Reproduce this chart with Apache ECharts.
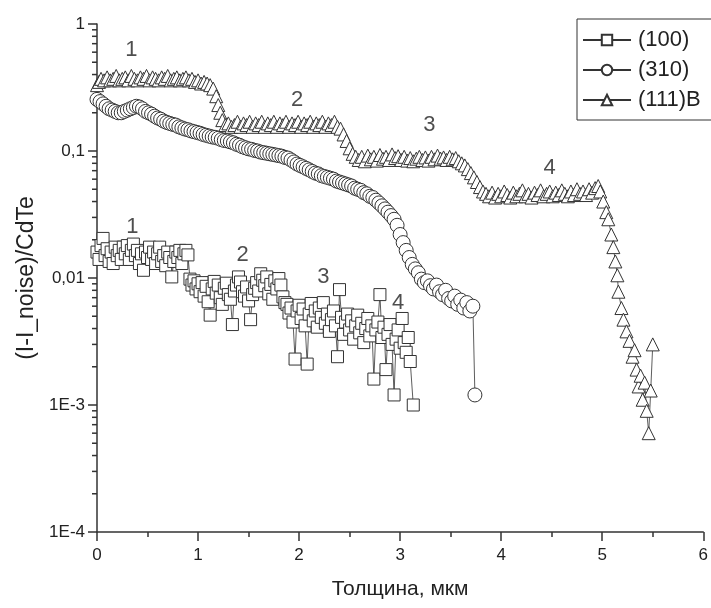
<!DOCTYPE html>
<html>
<head>
<meta charset="utf-8">
<script src="https://cdn.jsdelivr.net/npm/echarts@6/dist/echarts.min.js"></script>
<style>
  html, body { margin: 0; padding: 0; background: #fff; }
  #box { width: 711px; height: 608px; }
</style>
</head>
<body>
<div id="box"></div>
<script>
// (100) - squares
var data100 = [
  [0,0.016],[0.02,0.014],[0.04,0.018],[0.06,0.0205],[0.08,0.015],[0.1,0.017],[0.12,0.0135],[0.14,0.016],[0.16,0.013],[0.18,0.0175],
  [0.2,0.015],[0.22,0.0165],[0.24,0.014],[0.26,0.0175],[0.28,0.0155],[0.3,0.018],[0.32,0.014],[0.34,0.0165],[0.36,0.0185],[0.38,0.015],
  [0.4,0.0165],[0.42,0.013],[0.44,0.0155],[0.46,0.0115],[0.48,0.016],[0.5,0.0145],[0.52,0.0175],[0.54,0.014],[0.56,0.016],[0.58,0.013],
  [0.6,0.0155],[0.62,0.0175],[0.64,0.0135],[0.66,0.015],[0.68,0.0125],[0.7,0.016],[0.72,0.0145],[0.74,0.0102],[0.76,0.0135],[0.78,0.016],
  [0.8,0.0145],[0.82,0.0165],[0.84,0.013],[0.86,0.0155],[0.88,0.0165],[0.9,0.0152],
  [0.92,0.0098],[0.94,0.0088],[0.96,0.0095],[0.98,0.0082],[1.0,0.009],[1.02,0.0078],[1.04,0.0092],[1.06,0.0072],[1.08,0.0086],[1.1,0.0065],
  [1.12,0.0051],[1.14,0.0082],[1.16,0.0094],[1.18,0.0076],[1.2,0.0088],[1.22,0.007],[1.24,0.0062],[1.26,0.0083],[1.28,0.0091],[1.3,0.0074],
  [1.32,0.0068],[1.34,0.0043],[1.36,0.0079],[1.38,0.0088],[1.4,0.0102],[1.42,0.0093],[1.44,0.0078],[1.46,0.0072],[1.48,0.0085],[1.5,0.0066],
  [1.52,0.0047],[1.54,0.0074],[1.56,0.0083],[1.58,0.0092],[1.6,0.0079],[1.62,0.0108],[1.64,0.0096],[1.66,0.0087],[1.68,0.0102],[1.7,0.0075],
  [1.72,0.0089],[1.74,0.0068],[1.76,0.0095],[1.78,0.0082],[1.8,0.0099],[1.82,0.0088],[1.84,0.0071],[1.86,0.0064],
  [1.88,0.0062],[1.9,0.0053],[1.92,0.0058],[1.94,0.0045],[1.96,0.0023],[1.98,0.0055],[2.0,0.0061],[2.02,0.0048],[2.04,0.0057],[2.06,0.0042],
  [2.08,0.0021],[2.1,0.0052],[2.12,0.0063],[2.14,0.0046],[2.16,0.0055],[2.18,0.0041],[2.2,0.0058],[2.22,0.0049],[2.24,0.0064],[2.26,0.0044],
  [2.28,0.0052],[2.3,0.0038],[2.32,0.0047],[2.34,0.0055],[2.36,0.0042],[2.38,0.0024],[2.4,0.0081],[2.42,0.0049],[2.44,0.0036],[2.46,0.0045],
  [2.48,0.0052],[2.5,0.0039],[2.52,0.0046],[2.54,0.0033],[2.56,0.0042],[2.58,0.0051],[2.6,0.0037],[2.62,0.0044],[2.64,0.0031],[2.66,0.004],
  [2.68,0.0048],[2.7,0.0035],[2.72,0.0042],[2.74,0.0016],[2.76,0.0039],[2.78,0.0045],[2.8,0.0074],[2.82,0.0034],[2.84,0.0041],[2.86,0.0019],
  [2.88,0.0036],[2.9,0.0043],[2.92,0.003],[2.94,0.0012],[2.96,0.0033],[2.98,0.0039],[3.0,0.0028],[3.02,0.0048],[3.04,0.0031],[3.06,0.0026],
  [3.08,0.0034],[3.1,0.0022],[3.13,0.001]
];

// (310) - circles
var data310 = [
  [0,0.255],[0.03,0.245],[0.06,0.235],[0.09,0.225],[0.12,0.215],[0.15,0.21],[0.18,0.205],[0.21,0.2],[0.24,0.2],[0.27,0.205],
  [0.3,0.21],[0.33,0.215],[0.36,0.22],[0.39,0.225],[0.42,0.222],[0.45,0.215],[0.48,0.205],[0.51,0.2],[0.54,0.195],[0.57,0.188],
  [0.6,0.182],[0.63,0.178],[0.66,0.172],[0.69,0.168],[0.72,0.165],[0.75,0.162],[0.78,0.16],[0.81,0.155],[0.84,0.152],[0.87,0.149],
  [0.9,0.147],[0.93,0.144],[0.96,0.142],[0.99,0.14],[1.02,0.138],[1.05,0.135],[1.08,0.133],[1.11,0.131],[1.14,0.129],[1.17,0.128],
  [1.2,0.126],[1.23,0.123],[1.26,0.121],[1.29,0.12],[1.32,0.118],[1.35,0.116],[1.38,0.113],[1.41,0.111],[1.44,0.108],[1.47,0.106],
  [1.5,0.104],[1.53,0.103],[1.56,0.101],[1.59,0.1],[1.62,0.098],[1.65,0.097],[1.68,0.096],[1.71,0.095],[1.74,0.094],[1.77,0.093],
  [1.8,0.092],[1.83,0.091],[1.86,0.089],[1.89,0.088],[1.92,0.085],[1.95,0.082],[1.98,0.079],[2.01,0.077],[2.04,0.075],[2.07,0.073],
  [2.1,0.071],[2.13,0.069],[2.16,0.067],[2.19,0.066],[2.22,0.064],[2.25,0.063],[2.28,0.062],[2.31,0.061],[2.34,0.06],[2.37,0.058],
  [2.4,0.057],[2.43,0.056],[2.46,0.055],[2.49,0.054],[2.52,0.053],[2.55,0.051],[2.58,0.05],[2.61,0.049],[2.64,0.047],[2.67,0.046],
  [2.7,0.044],[2.73,0.043],[2.76,0.041],[2.79,0.039],[2.82,0.037],[2.85,0.035],[2.88,0.033],[2.91,0.031],[2.94,0.029],[2.97,0.026],
  [3.0,0.022],[3.03,0.019],[3.06,0.0165],[3.09,0.0145],[3.12,0.0128],[3.15,0.0118],[3.18,0.011],[3.21,0.0098],[3.24,0.0092],[3.27,0.0095],
  [3.3,0.0087],[3.33,0.0082],[3.36,0.0088],[3.39,0.0078],[3.42,0.0074],[3.45,0.008],[3.48,0.0069],[3.51,0.0066],[3.54,0.0072],[3.57,0.0062],
  [3.6,0.0067],[3.63,0.0058],[3.66,0.0064],[3.69,0.0055],[3.72,0.006],[3.74,0.0012]
];

// (111)B - triangles
var data111 = [
  [0,0.33],[0.02,0.35],[0.04,0.37],[0.07,0.36],[0.1,0.38],[0.13,0.36],[0.16,0.37],[0.19,0.39],[0.22,0.36],[0.25,0.37],
  [0.28,0.38],[0.31,0.36],[0.34,0.39],[0.37,0.37],[0.4,0.36],[0.43,0.38],[0.46,0.37],[0.49,0.39],[0.52,0.36],[0.55,0.38],
  [0.58,0.37],[0.61,0.36],[0.64,0.38],[0.67,0.37],[0.7,0.39],[0.73,0.36],[0.76,0.37],[0.79,0.38],[0.82,0.36],[0.85,0.37],
  [0.88,0.38],[0.91,0.36],[0.94,0.37],[0.97,0.35],[1.0,0.36],[1.03,0.34],[1.06,0.35],[1.09,0.34],[1.12,0.33],[1.15,0.31],
  [1.18,0.27],[1.2,0.23],[1.22,0.2],[1.24,0.175],[1.27,0.16],
  [1.3,0.165],[1.33,0.155],[1.36,0.16],[1.39,0.17],[1.42,0.155],[1.45,0.165],[1.48,0.16],[1.51,0.17],[1.54,0.155],[1.57,0.165],
  [1.6,0.16],[1.63,0.17],[1.66,0.155],[1.69,0.165],[1.72,0.16],[1.75,0.17],[1.78,0.155],[1.81,0.165],[1.84,0.16],[1.87,0.17],
  [1.9,0.155],[1.93,0.165],[1.96,0.16],[1.99,0.17],[2.02,0.155],[2.05,0.165],[2.08,0.16],[2.11,0.17],[2.14,0.155],[2.17,0.165],
  [2.2,0.16],[2.23,0.17],[2.26,0.155],[2.29,0.165],[2.32,0.16],[2.35,0.17],[2.38,0.155],[2.41,0.15],[2.44,0.135],[2.47,0.12],
  [2.5,0.105],[2.53,0.095],
  [2.56,0.09],[2.59,0.085],[2.62,0.09],[2.65,0.083],[2.68,0.092],[2.71,0.086],[2.74,0.09],[2.77,0.084],[2.8,0.093],[2.83,0.087],
  [2.86,0.09],[2.89,0.085],[2.92,0.094],[2.95,0.088],[2.98,0.091],[3.01,0.085],[3.04,0.09],[3.07,0.084],[3.1,0.088],[3.13,0.083],
  [3.16,0.087],[3.19,0.09],[3.22,0.085],[3.25,0.089],[3.28,0.084],[3.31,0.09],[3.34,0.086],[3.37,0.092],[3.4,0.087],[3.43,0.089],
  [3.46,0.085],[3.49,0.09],[3.52,0.086],[3.55,0.088],[3.58,0.083],[3.61,0.08],[3.64,0.077],[3.67,0.072],[3.7,0.067],[3.73,0.062],
  [3.76,0.057],[3.79,0.052],[3.82,0.048],
  [3.85,0.046],[3.88,0.044],[3.91,0.047],[3.94,0.043],[3.97,0.046],[4.0,0.044],[4.03,0.048],[4.06,0.045],[4.09,0.043],[4.12,0.047],
  [4.15,0.044],[4.18,0.046],[4.21,0.049],[4.24,0.044],[4.27,0.046],[4.3,0.043],[4.33,0.047],[4.36,0.045],[4.39,0.049],[4.42,0.044],
  [4.45,0.046],[4.48,0.048],[4.51,0.044],[4.54,0.047],[4.57,0.045],[4.6,0.049],[4.63,0.046],[4.66,0.044],[4.69,0.048],[4.72,0.045],
  [4.75,0.05],[4.78,0.046],[4.81,0.048],[4.84,0.045],[4.87,0.05],[4.9,0.047],[4.93,0.051],[4.96,0.053],[4.98,0.048],[5.01,0.04],
  [5.04,0.033],[5.06,0.029],[5.09,0.022],[5.11,0.0175],[5.13,0.0135],[5.15,0.0105],[5.16,0.0078],[5.19,0.0058],[5.21,0.0047],[5.24,0.0038],
  [5.27,0.0032],[5.3,0.0024],[5.32,0.0027],[5.34,0.0019],[5.36,0.0014],[5.38,0.0017],[5.4,0.0011],[5.42,0.0015],[5.44,0.0009],[5.46,0.0006],
  [5.48,0.0013],[5.5,0.003]
];

// region numbers written on the plot
var labelText = ['1', '2', '3', '4', '1', '2', '3', '4'];
var labelX = [0.34, 1.98, 3.29, 4.48, 0.35, 1.44, 2.24, 2.98];
var labelY = [0.624, 0.252, 0.16, 0.0735, 0.0252, 0.0152, 0.0102, 0.00635];

var yTickLabels = {1: '1', 0.1: '0,1', 0.01: '0,01', 0.001: '1E-3', 0.0001: '1E-4'};
var yMinorTicks = [
  2e-4,3e-4,4e-4,5e-4,6e-4,7e-4,8e-4,9e-4,
  2e-3,3e-3,4e-3,5e-3,6e-3,7e-3,8e-3,9e-3,
  2e-2,3e-2,4e-2,5e-2,6e-2,7e-2,8e-2,9e-2,
  0.2,0.3,0.4,0.5,0.6,0.7,0.8,0.9
];

var ink = '#333';
var font = 'Liberation Sans, Arial, sans-serif';

var labelData = labelText.map(function (t, i) {
  return { name: t, value: [labelX[i], labelY[i]] };
});

function markerSeries(name, data, symbol, size) {
  return {
    name: name,
    type: 'line',
    data: data,
    symbol: symbol,
    symbolSize: size,
    showAllSymbol: true,
    lineStyle: { color: ink, width: 0.8 },
    itemStyle: { color: '#fff', borderColor: ink, borderWidth: 1 },
    emphasis: { disabled: true }
  };
}

var chart = echarts.init(document.getElementById('box'));
var option = {
  animation: false,
  backgroundColor: '#fff',
  grid: { left: 97, right: 4, top: 24, bottom: 76 },
  legend: {
    data: ['(100)', '(310)', '(111)B'],
    orient: 'vertical',
    left: 577,
    top: 19,
    padding: [10, 12, 9, 5],
    itemGap: 8,
    itemWidth: 48,
    itemHeight: 13,
    borderColor: ink,
    borderWidth: 1,
    selectedMode: false,
    textStyle: { fontFamily: font, fontSize: 22, color: '#222', padding: [0, 0, 0, 2] }
  },
  xAxis: {
    type: 'value',
    min: 0,
    max: 6,
    interval: 1,
    name: 'Толщина, мкм',
    nameLocation: 'middle',
    nameGap: 47,
    nameTextStyle: { fontFamily: font, fontSize: 21, color: '#222' },
    axisLine: { lineStyle: { color: ink, width: 1.5 } },
    axisTick: { length: 9, lineStyle: { color: ink, width: 1.5 } },
    minorTick: { show: true, splitNumber: 2, length: 5, lineStyle: { color: ink, width: 1.5 } },
    axisLabel: { fontFamily: font, fontSize: 17, color: '#222', margin: 15 },
    splitLine: { show: false }
  },
  yAxis: {
    type: 'log',
    logBase: 10,
    min: 0.0001,
    max: 1,
    name: '(I-I_noise)/CdTe',
    nameLocation: 'middle',
    nameGap: 55,
    nameRotate: 90,
    nameTextStyle: { fontFamily: font, fontSize: 23, color: '#222' },
    axisLine: { lineStyle: { color: ink, width: 1.5 } },
    axisTick: { length: 9, lineStyle: { color: ink, width: 1.5 } },
    axisLabel: {
      fontFamily: font, fontSize: 17, color: '#222', margin: 12,
      formatter: function (v) {
        var key = Number(v.toPrecision(6));
        return yTickLabels[key] !== undefined ? yTickLabels[key] : '';
      }
    },
    splitLine: { show: false }
  },
  series: [
    markerSeries('(100)', data100, 'rect', 12),
    markerSeries('(310)', data310, 'circle', 14),
    markerSeries('(111)B', data111, 'triangle', 13),
    {
      type: 'scatter',
      data: labelData,
      symbolSize: 0,
      silent: true,
      label: {
        show: true,
        position: 'inside',
        formatter: '{b}',
        fontFamily: font,
        fontSize: 22,
        color: '#222'
      }
    },
    {
      // log-spaced minor ticks on the y axis
      type: 'custom',
      silent: true,
      data: yMinorTicks.map(function (v) { return [0, v]; }),
      renderItem: function (params, api) {
        var p = api.coord([api.value(0), api.value(1)]);
        return {
          type: 'line',
          shape: { x1: p[0] - 5, y1: p[1], x2: p[0], y2: p[1] },
          style: { stroke: ink, lineWidth: 1.5 }
        };
      }
    }
  ]
};
chart.setOption(option);
</script>
</body>
</html>
